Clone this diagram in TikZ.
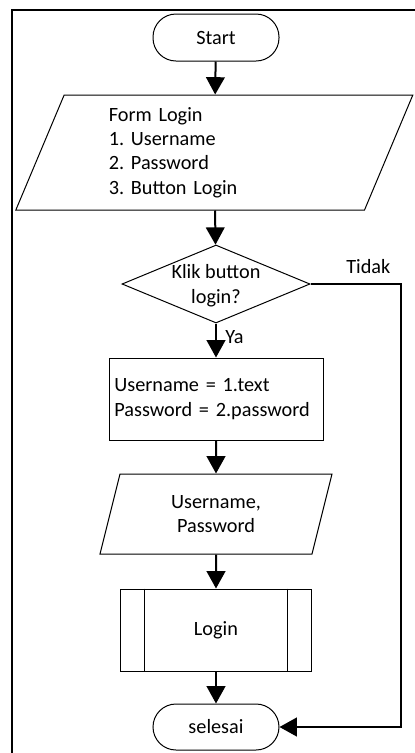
\documentclass[tikz,border=0pt]{standalone}
\usepackage{fontspec}
\setmainfont{Carlito}
\usepackage{tikz}
\usetikzlibrary{shapes.geometric, arrows.meta, positioning}
\frenchspacing
\tikzstyle{terminal} = [rectangle, rounded corners=0.69cm, 
minimum width=3.78cm, 
minimum height=1.41cm,
text centered, 
draw=black, line width=0.03cm]
\tikzstyle{io} = [trapezium, trapezium left angle=62, trapezium right angle=118, 
trapezium stretches body,
inner sep=0pt, 
draw=black, line width=0.03cm]
\tikzstyle{process} = [rectangle, 
minimum width=6.42cm, 
minimum height=2.46cm, 
text width=6.1cm, 
align=left, 
draw=black, line width=0.03cm]
\tikzstyle{decision} = [diamond, 
minimum width=5.64cm, 
minimum height=2.34cm, 
inner sep=0pt, 
draw=black, line width=0.03cm]
\tikzstyle{subproc} = [rectangle, 
minimum width=5.73cm, 
minimum height=2.46cm, 
text centered, 
draw=black, line width=0.03cm]
\tikzstyle{arrow} = [line width=0.06cm,-{Triangle[length=0.52cm,width=0.56cm]}]

\begin{document}
\begin{tikzpicture}[font=\fontsize{17.3}{20.9}\selectfont]
\useasboundingbox (0,0) rectangle (12.45,-22.59);
\draw [line width=0.06cm] (0.36,-22.9) -- (0.36,-0.3) -- (12.8,-0.3);

\node (start) [terminal] at (6.48,-1.125) {Start};

\node (form) [io, node distance=3.45cm, below of=start, xshift=-0.05cm, 
minimum width=11.91cm, minimum height=3.45cm, text width=6.33cm, align=left] 
{Form Login\\1. Username\\2. Password\\3. Button Login};

\node (cek) [decision, node distance=3.945cm, below of=form, xshift=0.05cm] {};
\node (cektext) [align=center] at ([yshift=-0.05cm]cek.center) {Klik button\\login?};

\node (isi) [process, node distance=3.45cm, below of=cek] 
{Username = 1.text\\Password = 2.password};

\node (input) [io, node distance=3.45cm, below of=isi, 
minimum width=6.96cm, minimum height=2.4cm, align=center] 
{Username,\\Password};

\node (login) [subproc, node distance=3.48cm, below of=input] {Login};
\draw [line width=0.03cm] ([xshift=0.72cm]login.north west) -- ([xshift=0.72cm]login.south west);
\draw [line width=0.03cm] ([xshift=-0.74cm]login.north east) -- ([xshift=-0.74cm]login.south east);

\node (selesai) [terminal, node distance=2.91cm, below of=login, minimum height=1.38cm] {selesai};

\coordinate (tepi) at (12.03,-0.3);

\draw [arrow] (start) -- (form);
\draw [arrow] (form) -- (cek);
\draw [arrow] (cek) -- node (ya) [right, pos=0.4, inner sep=0.25cm] {Ya} (isi);
\draw [arrow] (isi) -- (input);
\draw [arrow] (input) -- (login);
\draw [arrow] (login) -- (selesai);
\draw [arrow] (cek.east) -| (tepi |- selesai.east) -- (selesai.east);
\node (tidak) at (11.05,-8.01) {Tidak};

\end{tikzpicture}
\end{document}
